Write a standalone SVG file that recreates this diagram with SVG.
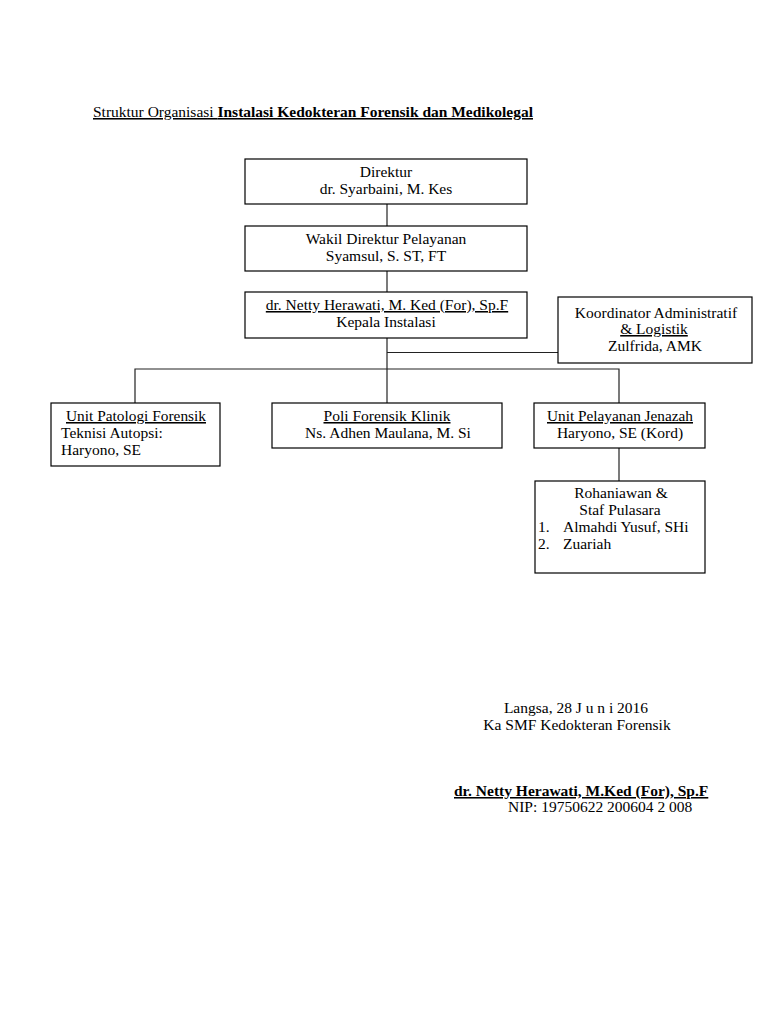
<svg xmlns="http://www.w3.org/2000/svg" width="768" height="1024" viewBox="0 0 768 1024">
<style>
text{font-family:"Liberation Serif","Times New Roman",serif;font-size:15.5px;fill:#000}
.c{text-anchor:middle}
.u{text-decoration:underline}
.b{font-weight:bold}
.box{fill:#fff;stroke:#000;stroke-width:1.2}
.ln{stroke:#222;stroke-width:1.2;fill:none}
</style>
<rect width="768" height="1024" fill="#fff"/>
<text x="93" y="117" class="u" textLength="440" lengthAdjust="spacingAndGlyphs">Struktur Organisasi <tspan class="b">Instalasi Kedokteran Forensik dan Medikolegal</tspan></text>
<g id="connectors">
<line class="ln" x1="387" y1="204" x2="387" y2="226"/>
<line class="ln" x1="387" y1="271" x2="387" y2="292"/>
<line class="ln" x1="387" y1="338" x2="387" y2="369"/>
<line class="ln" x1="387" y1="352.5" x2="558" y2="352.5"/>
<polyline class="ln" points="135,403 135,369 619,369 619,403"/>
<line class="ln" x1="387" y1="369" x2="387" y2="403"/>
<line class="ln" x1="619" y1="448" x2="619" y2="481"/>
</g>
<g id="direktur">
<rect class="box" x="245" y="159" width="282" height="45"/>
<text x="386" y="177" class="c">Direktur</text>
<text x="386" y="194" class="c">dr. Syarbaini, M. Kes</text>
</g>
<g id="wakil">
<rect class="box" x="245" y="226" width="282" height="45"/>
<text x="386" y="244" class="c">Wakil Direktur Pelayanan</text>
<text x="386" y="261" class="c">Syamsul, S. ST, FT</text>
</g>
<g id="kepala">
<rect class="box" x="245" y="292" width="282" height="46"/>
<text x="387" y="310" class="c u">dr. Netty Herawati, M. Ked (For), Sp.F</text>
<text x="386" y="327" class="c">Kepala Instalasi</text>
</g>
<g id="koordinator">
<rect class="box" x="558" y="297" width="194" height="66"/>
<text x="656" y="318" class="c">Koordinator Administratif</text>
<text x="654" y="334" class="c u">&amp; Logistik</text>
<text x="655" y="351" class="c">Zulfrida, AMK</text>
</g>
<g id="patologi">
<rect class="box" x="51" y="403" width="169" height="63"/>
<text x="66" y="421" class="u" textLength="140" lengthAdjust="spacingAndGlyphs">Unit Patologi Forensik</text>
<text x="61" y="438">Teknisi Autopsi:</text>
<text x="61" y="455">Haryono, SE</text>
</g>
<g id="poli">
<rect class="box" x="272" y="403" width="230" height="45"/>
<text x="387" y="421" class="c u" textLength="127" lengthAdjust="spacingAndGlyphs">Poli Forensik Klinik</text>
<text x="388" y="438" class="c">Ns. Adhen Maulana, M. Si</text>
</g>
<g id="pelayanan">
<rect class="box" x="534" y="403" width="171" height="45"/>
<text x="620" y="421" class="c u" textLength="146" lengthAdjust="spacingAndGlyphs">Unit Pelayanan Jenazah</text>
<text x="620" y="438" class="c">Haryono, SE (Kord)</text>
</g>
<g id="rohaniawan">
<rect class="box" x="535" y="481" width="170" height="92"/>
<text x="621" y="498" class="c">Rohaniawan &amp;</text>
<text x="620" y="515" class="c">Staf Pulasara</text>
<text x="538" y="532">1.</text><text x="563" y="532">Almahdi Yusuf, SHi</text>
<text x="538" y="549">2.</text><text x="563" y="549">Zuariah</text>
</g>
<text x="576" y="713" class="c">Langsa, 28 J u n i 2016</text>
<text x="577" y="730" class="c">Ka SMF Kedokteran Forensik</text>
<text x="454" y="796" class="b u">dr. Netty Herawati, M.Ked (For), Sp.F</text>
<text x="508" y="812">NIP: 19750622 200604 2 008</text>
</svg>
